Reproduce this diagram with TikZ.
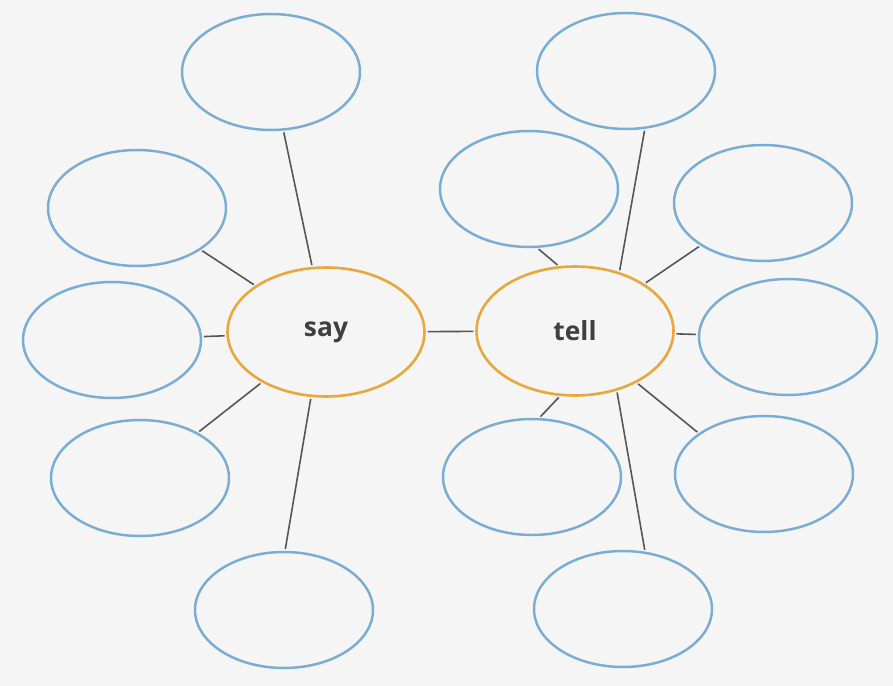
\documentclass[tikz,border=0pt]{standalone}
\usepackage{fontspec}
\setsansfont{Open Sans}
\usetikzlibrary{shapes.geometric}
\definecolor{bubbleblue}{RGB}{122,172,212}
\definecolor{keyorange}{RGB}{232,168,62}
\definecolor{spoke}{RGB}{85,85,90}
\begin{document}
\begin{tikzpicture}[x=0.02cm,y=-0.02cm,
  bubble/.style={ellipse,draw=bubbleblue,line width=1.4pt,inner sep=0pt,minimum width=3.56cm,minimum height=2.32cm},
  keyword/.style={ellipse,draw=keyorange,line width=1.5pt,inner sep=0pt,minimum width=3.94cm,minimum height=2.58cm,
    font=\sffamily\bfseries\fontsize{15}{18}\selectfont,text=black!75},
  link/.style={draw=spoke,line width=0.9pt,shorten <=1pt,shorten >=1pt}]
\fill[black!4] (0,0) rectangle (893,686);
\useasboundingbox (0,0) rectangle (893,686);
\node[keyword] (say) at (326,332) {say};
\node[keyword] (tell) at (575,331) {tell};
\node[bubble] (tl) at (271,72) {};
\node[bubble] (tr) at (626,71) {};
\node[bubble] (lu) at (137,208) {};
\node[bubble] (mu) at (529,189) {};
\node[bubble] (ru) at (763,203) {};
\node[bubble] (lm) at (112,340) {};
\node[bubble] (rm) at (788,337) {};
\node[bubble] (ll) at (140,478) {};
\node[bubble] (ml) at (532,477) {};
\node[bubble] (rl) at (764,474) {};
\node[bubble] (bl) at (284,610) {};
\node[bubble] (br) at (623,609) {};
\draw[link] (tl) -- (say);
\draw[link] (lu) -- (say);
\draw[link] (lm) -- (say);
\draw[link] (ll) -- (say);
\draw[link] (say.-103) -- (bl.89);
\draw[link] (say) -- (tell);
\draw[link] (tell.53) -- (tr.-72);
\draw[link] (mu.-82) -- (tell.104);
\draw[link] (ru) -- (tell);
\draw[link] (tell) -- (rm);
\draw[link] (tell.-103) -- (ml.83);
\draw[link] (tell.-55) -- (br.69);
\draw[link] (tell.-40) -- (rl.148);
\end{tikzpicture}
\end{document}
